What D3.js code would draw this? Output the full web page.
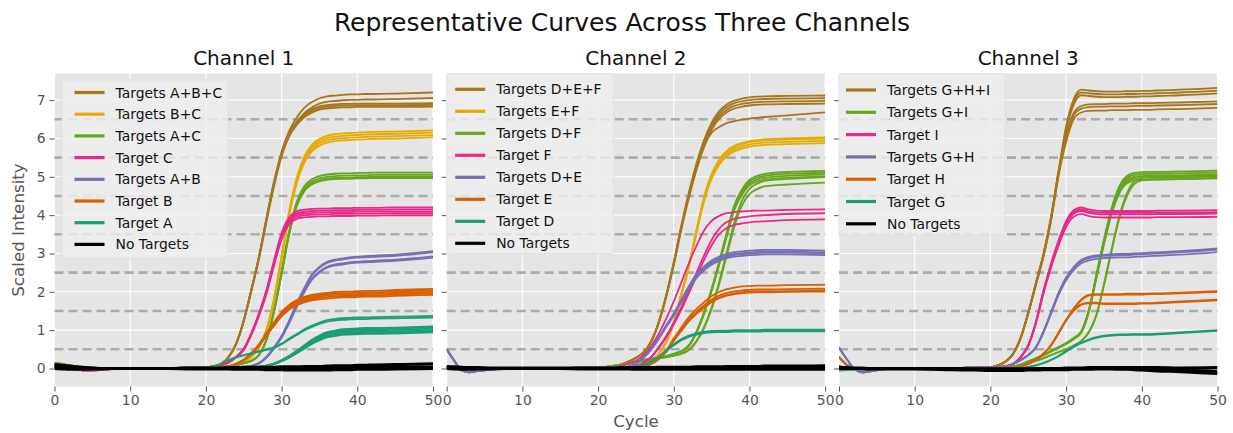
<!DOCTYPE html>
<html>
<head>
<meta charset="utf-8">
<script src="https://cdn.jsdelivr.net/npm/d3@7"></script>
<style>
  body { margin: 0; background: #fff; }
  svg text { font-family: "DejaVu Sans", sans-serif; }
</style>
</head>
<body>
<svg id="chart"></svg>
<script>
// ---------- data ----------
// cycle positions where the curves were sampled
const cycles = [0,1,2,3,4,6,8,10,15,18, 20,21,22,23,24,25,26,27,28,29, 30,31,32,33,34,35,36,37,38,39, 40,41,42,45,50];

const yTicks = [0,1,2,3,4,5,6,7];
const xTicks = [0,10,20,30,40,50];
const thresholds = [0.5,1.5,2.5,3.5,4.5,5.5,6.5];
const panelTitles = ["Channel 1","Channel 2","Channel 3"];

// Channel 1
const ch1ABCHi = [0.08,0.06,0.04,0.02,0.01,0,0,0,0.01,0.02, 0.03,0.06,0.12,0.3,0.65,1.25,2.05,2.9,3.9,4.85, 5.65,6.2,6.55,6.8,6.95,7.05,7.1,7.12,7.14,7.15, 7.15,7.16,7.16,7.17,7.2];
const ch1ABCLo = [0.08,0.06,0.04,0.02,0.01,0,0,0,0.01,0.02, 0.03,0.06,0.12,0.3,0.65,1.25,2.05,2.9,3.9,4.85, 5.6,6.1,6.4,6.6,6.72,6.8,6.83,6.85,6.86,6.86, 6.87,6.87,6.87,6.87,6.88];
const ch1BC = [0,0.01,0.02,0.02,0.01,0,0,0,0.01,0.02, 0.02,0.03,0.04,0.06,0.1,0.17,0.3,0.55,1.0,1.8, 2.9,4.05,4.9,5.45,5.75,5.9,5.98,6.02,6.04,6.05, 6.06,6.07,6.08,6.09,6.12];
const ch1AC = [0.15,0.12,0.08,0.05,0.02,0,0,0,0.01,0.02, 0.02,0.03,0.04,0.06,0.09,0.14,0.2,0.35,0.75,1.5, 2.5,3.55,4.3,4.7,4.88,4.96,5.0,5.02,5.03,5.03, 5.04,5.04,5.05,5.05,5.05];
const ch1C = [0.05,0.02,0,-0.03,-0.05,-0.04,-0.01,0,0.01,0.02, 0.03,0.05,0.09,0.16,0.3,0.5,0.9,1.4,2.0,2.75, 3.45,3.85,4.0,4.04,4.06,4.07,4.07,4.08,4.08,4.08, 4.09,4.09,4.09,4.1,4.1];
const ch1AB = [0.05,0.03,0.01,0,-0.01,-0.01,0,0,0.01,0.02, 0.02,0.02,0.03,0.03,0.04,0.05,0.07,0.14,0.3,0.55, 0.85,1.25,1.7,2.1,2.45,2.65,2.78,2.84,2.87,2.9, 2.92,2.93,2.94,2.97,3.06];
const ch1B = [0.05,0.03,0.01,0,0,0,0,0,0.01,0.02, 0.02,0.02,0.03,0.05,0.12,0.22,0.38,0.6,0.88,1.15, 1.4,1.58,1.7,1.78,1.83,1.86,1.88,1.9,1.91,1.91, 1.92,1.93,1.93,1.95,1.98];
const ch1AHi = [0.1,0.08,0.05,0.03,0.01,0,0,0,0.01,0.02, 0.02,0.05,0.12,0.22,0.3,0.35,0.4,0.45,0.5,0.55, 0.65,0.78,0.9,1.02,1.12,1.2,1.26,1.29,1.31,1.32, 1.33,1.33,1.34,1.35,1.37];
const ch1ALo = [0.1,0.08,0.05,0.03,0.01,0,0,0,0.01,0.01, 0.01,0.01,0.01,0.02,0.02,0.02,0.02,0.04,0.07,0.12, 0.2,0.3,0.42,0.55,0.68,0.78,0.86,0.9,0.93,0.94, 0.95,0.96,0.96,0.97,1.0];
const ch1None1 = [0.1,0.08,0.06,0.04,0.02,0,0,0,0,0, 0,0,0,0,0,0,0,0,0,0, 0,0,0,0,0,0,0.01,0.01,0.01,0.02, 0.02,0.02,0.02,0.03,0.03];
const ch1None2 = [0,-0.01,-0.02,-0.02,-0.02,-0.01,0,0,0,-0.01, -0.01,-0.01,-0.01,-0.01,-0.02,-0.02,-0.02,-0.02,-0.03,-0.03, -0.03,-0.04,-0.04,-0.04,-0.04,-0.04,-0.04,-0.03,-0.03,-0.03, -0.02,-0.02,-0.02,-0.01,0];
const ch1None3 = [0.05,0.04,0.03,0.02,0.01,0,0,0,0,0.01, 0.01,0.01,0.01,0.02,0.02,0.02,0.03,0.03,0.03,0.03, 0.04,0.04,0.04,0.05,0.05,0.05,0.06,0.07,0.07,0.07, 0.08,0.08,0.09,0.1,0.12];

// Channel 2
const ch2DEF = [0.05,0.03,0.01,0,-0.01,0,0,0,0.01,0.02, 0.03,0.04,0.05,0.1,0.18,0.28,0.42,0.7,1.2,1.9, 2.75,3.7,4.55,5.3,5.9,6.35,6.65,6.82,6.92,6.97, 7.0,7.02,7.03,7.04,7.05];
const ch2DEFOut = [0.05,0.03,0.01,0,-0.01,0,0,0,0.01,0.02, 0.03,0.04,0.05,0.1,0.18,0.28,0.42,0.7,1.2,1.9, 2.75,3.7,4.5,5.2,5.8,6.15,6.3,6.4,6.45,6.49, 6.52,6.54,6.56,6.6,6.68];
const ch2EF = [0.03,0.02,0.01,0,0,0,0,0,0.01,0.01, 0.02,0.02,0.03,0.03,0.04,0.05,0.1,0.2,0.38,0.7, 1.2,1.95,2.7,3.6,4.45,5.05,5.42,5.65,5.78,5.85, 5.9,5.93,5.95,5.97,6.0];
const ch2DF = [0.05,0.03,0.01,0,0,0,0,0,0.01,0.02, 0.02,0.04,0.07,0.1,0.14,0.18,0.22,0.25,0.28,0.32, 0.38,0.45,0.6,0.95,1.45,2.05,2.75,3.5,4.2,4.6, 4.85,4.95,5.0,5.05,5.08];
const ch2DFLate = [0.05,0.03,0.01,0,0,0,0,0,0.01,0.02, 0.02,0.04,0.06,0.09,0.12,0.16,0.2,0.23,0.26,0.29, 0.33,0.38,0.48,0.7,1.05,1.55,2.2,2.95,3.7,4.25, 4.55,4.68,4.75,4.8,4.85];
const ch2FEarly = [0.04,0.02,0.01,0,0,0,0,0,0.01,0.01, 0.02,0.03,0.04,0.07,0.12,0.2,0.35,0.58,0.9,1.3, 1.75,2.25,2.75,3.2,3.6,3.85,3.98,4.05,4.08,4.1, 4.11,4.12,4.12,4.14,4.15];
const ch2F = [0.04,0.02,0.01,0,0,0,0,0,0.01,0.01, 0.02,0.02,0.02,0.02,0.03,0.07,0.15,0.3,0.55,0.85, 1.2,1.6,2.05,2.5,2.95,3.35,3.65,3.82,3.9,3.94, 3.97,3.99,4.0,4.03,4.05];
const ch2DE = [0.5,0.2,-0.05,-0.1,-0.07,-0.02,0,0,0.01,0.02, 0.02,0.02,0.03,0.03,0.05,0.12,0.28,0.5,0.78,1.1, 1.4,1.75,2.1,2.4,2.6,2.75,2.85,2.92,2.96,2.98, 3.0,3.01,3.02,3.02,3.0];
const ch2E = [0.03,0.01,0,-0.01,-0.01,0,0,0,0.01,0.01, 0.01,0.01,0.01,0.01,0.01,0.02,0.05,0.12,0.25,0.45, 0.75,1.02,1.28,1.48,1.65,1.8,1.9,1.97,2.01,2.04, 2.05,2.06,2.06,2.07,2.08];
const ch2D = [0,-0.01,-0.02,-0.02,-0.01,0,0,0,0.01,0.01, 0.01,0.01,0.01,0.01,0.02,0.05,0.1,0.18,0.3,0.47, 0.62,0.75,0.84,0.9,0.94,0.96,0.97,0.97,0.98,0.98, 0.98,0.98,0.99,0.99,0.99];
const ch2None1 = [0.03,0.02,0.01,0,0,0,0,0,0,0, 0,0,0,0,0,0,0,0,0,0, 0,0,0,0,0,0,0,0,0,0, 0,0,0,0,0];
const ch2None2 = [0.05,0.04,0.03,0.02,0.02,0.01,0.01,0.01,0.01,0.01, 0.01,0.01,0.01,0.02,0.02,0.02,0.02,0.02,0.03,0.03, 0.03,0.03,0.03,0.04,0.04,0.04,0.04,0.05,0.05,0.05, 0.05,0.05,0.06,0.06,0.07];
const ch2None3 = [0,-0.01,-0.02,-0.02,-0.01,-0.01,0,0,0,-0.01, -0.01,-0.01,-0.01,-0.01,-0.01,-0.02,-0.02,-0.02,-0.02,-0.02, -0.02,-0.02,-0.02,-0.02,-0.02,-0.02,-0.02,-0.02,-0.02,-0.02, -0.02,-0.02,-0.02,-0.02,-0.02];

// Channel 3
const ch3GHIHi = [0.3,0.1,0,-0.05,-0.04,0,0,0,0.01,0.02, 0.03,0.08,0.18,0.38,0.8,1.45,2.2,2.95,3.9,5.1, 6.25,6.95,7.2,7.18,7.16,7.15,7.15,7.15,7.16,7.16, 7.17,7.17,7.18,7.2,7.25];
const ch3GHILo = [0.3,0.1,0,-0.05,-0.04,0,0,0,0.01,0.02, 0.03,0.08,0.18,0.38,0.8,1.45,2.2,2.95,3.9,5.1, 6.0,6.6,6.78,6.82,6.83,6.83,6.84,6.84,6.84,6.85, 6.85,6.85,6.86,6.87,6.9];
const ch3GI = [0.05,0.03,0.01,0,0,0,0,0,0.01,0.02, 0.02,0.03,0.04,0.05,0.1,0.18,0.26,0.35,0.45,0.55, 0.65,0.78,0.95,1.5,2.4,3.3,4.1,4.65,4.92,5.0, 5.02,5.03,5.03,5.04,5.06];
const ch3GILate = [0.05,0.03,0.01,0,0,0,0,0,0.01,0.02, 0.02,0.03,0.04,0.05,0.08,0.14,0.2,0.27,0.35,0.43, 0.5,0.6,0.72,0.95,1.4,2.2,3.1,3.95,4.55,4.88, 4.98,5.0,5.01,5.02,5.05];
const ch3I = [0.05,0.02,0,-0.02,-0.02,-0.01,0,0,0.01,0.02, 0.02,0.03,0.06,0.12,0.3,0.6,1.2,2.0,2.7,3.3, 3.8,4.08,4.15,4.1,4.07,4.06,4.06,4.06,4.06,4.06, 4.06,4.06,4.07,4.07,4.08];
const ch3GH = [0.55,0.25,0,-0.1,-0.08,-0.02,0,0,0.01,0.02, 0.02,0.03,0.05,0.12,0.22,0.35,0.55,0.95,1.45,1.95, 2.35,2.62,2.8,2.88,2.92,2.94,2.95,2.96,2.96,2.97, 2.98,2.99,3.0,3.03,3.1];
const ch3HHi = [0.03,0.02,0.01,0,0,0,0,0,0.01,0.01, 0.01,0.01,0.02,0.02,0.06,0.12,0.22,0.38,0.6,0.92, 1.25,1.55,1.78,1.9,1.92,1.92,1.92,1.92,1.93,1.93, 1.93,1.94,1.94,1.96,2.0];
const ch3HLo = [0.03,0.02,0.01,0,0,0,0,0,0.01,0.01, 0.01,0.01,0.02,0.02,0.06,0.12,0.22,0.38,0.6,0.92, 1.25,1.5,1.66,1.7,1.7,1.68,1.68,1.68,1.68,1.68, 1.69,1.69,1.7,1.73,1.78];
const ch3G = [-0.05,-0.04,-0.03,-0.02,-0.01,0,0,0,0,0, 0,0,0.01,0.01,0.02,0.04,0.08,0.14,0.22,0.32, 0.44,0.56,0.66,0.74,0.8,0.84,0.86,0.87,0.87,0.88, 0.88,0.88,0.89,0.92,0.98];
const ch3None1 = [0.02,0.01,0,0,0,0,0,0,-0.01,-0.02, -0.03,-0.03,-0.03,-0.03,-0.03,-0.02,-0.02,-0.02,-0.01,-0.01, -0.01,0,0,0,0.01,0.01,0.01,0.01,0,0, 0,-0.01,-0.02,-0.04,-0.08];
const ch3None2 = [0.03,0.02,0.01,0.01,0,0,0,0,0,-0.01, -0.01,-0.01,-0.01,-0.01,-0.01,-0.01,0,0,0,0, 0.01,0.01,0.01,0.02,0.02,0.02,0.02,0.02,0.02,0.02, 0.02,0.02,0.02,0.01,0.02];
const ch3None3 = [0,0,0,0,-0.01,-0.01,-0.01,-0.01,-0.03,-0.04, -0.05,-0.05,-0.05,-0.05,-0.05,-0.04,-0.04,-0.03,-0.03,-0.03, -0.03,-0.02,-0.02,-0.02,-0.01,-0.01,-0.01,-0.02,-0.02,-0.03, -0.04,-0.05,-0.06,-0.08,-0.13];

// replicate wells of each curve: relative plateau of every replicate
const ch1Series = [
  { label: "Targets A+B+C", tone: "brown",  curves: [{ v: ch1ABCHi, reps: [1, 0.98] }, { v: ch1ABCLo, reps: [1, 0.993, 1.006] }] },
  { label: "Targets B+C",   tone: "yellow", curves: [{ v: ch1BC, reps: [1.015, 1.005, 0.995, 0.985] }] },
  { label: "Targets A+C",   tone: "green",  curves: [{ v: ch1AC, reps: [1.012, 1, 0.99, 0.984] }] },
  { label: "Target C",      tone: "pink",   curves: [{ v: ch1C, reps: [1.025, 1.012, 1, 0.988, 0.975] }] },
  { label: "Targets A+B",   tone: "purple", curves: [{ v: ch1AB, reps: [1, 0.99, 0.955, 0.945] }] },
  { label: "Target B",      tone: "orange", curves: [{ v: ch1B, reps: [1.05, 1.03, 1.01, 0.99, 0.97] }] },
  { label: "Target A",      tone: "teal",   curves: [{ v: ch1AHi, reps: [1, 0.97] }, { v: ch1ALo, reps: [1.1, 1.07, 1.04, 1, 0.97, 0.94] }] },
  { label: "No Targets",    tone: "black",  curves: [{ v: ch1None1, reps: [1] }, { v: ch1None2, reps: [1] }, { v: ch1None3, reps: [1] }] }
];
const ch2Series = [
  { label: "Targets D+E+F", tone: "brown",  curves: [{ v: ch2DEF, reps: [1.01, 1, 0.99, 0.98] }, { v: ch2DEFOut, reps: [1] }] },
  { label: "Targets E+F",   tone: "yellow", curves: [{ v: ch2EF, reps: [1.005, 1, 0.99, 0.98] }] },
  { label: "Targets D+F",   tone: "green",  curves: [{ v: ch2DF, reps: [1.015, 1.005, 0.995, 0.985] }, { v: ch2DFLate, reps: [1, 1.03] }] },
  { label: "Target F",      tone: "pink",   curves: [{ v: ch2FEarly, reps: [1] }, { v: ch2F, reps: [1, 0.96] }] },
  { label: "Targets D+E",   tone: "purple", curves: [{ v: ch2DE, reps: [1.025, 1.01, 1, 0.985] }] },
  { label: "Target E",      tone: "orange", curves: [{ v: ch2E, reps: [1.05, 1, 0.975, 0.965] }] },
  { label: "Target D",      tone: "teal",   curves: [{ v: ch2D, reps: [1.02, 1, 0.98] }] },
  { label: "No Targets",    tone: "black",  curves: [{ v: ch2None1, reps: [1] }, { v: ch2None2, reps: [1] }, { v: ch2None3, reps: [1] }] }
];
const ch3Series = [
  { label: "Targets G+H+I", tone: "brown",  curves: [{ v: ch3GHIHi, reps: [1.01, 1, 0.99] }, { v: ch3GHILo, reps: [1.01, 1, 0.985] }] },
  { label: "Targets G+I",   tone: "green",  curves: [{ v: ch3GI, reps: [1.02, 1.01, 1, 0.99, 0.98] }, { v: ch3GILate, reps: [1, 0.985] }] },
  { label: "Target I",      tone: "pink",   curves: [{ v: ch3I, reps: [1.012, 1, 0.99, 0.97] }] },
  { label: "Targets G+H",   tone: "purple", curves: [{ v: ch3GH, reps: [1.01, 1, 0.98] }] },
  { label: "Target H",      tone: "orange", curves: [{ v: ch3HHi, reps: [1.01, 1] }, { v: ch3HLo, reps: [1.01, 1] }] },
  { label: "Target G",      tone: "teal",   curves: [{ v: ch3G, reps: [1.02, 1] }] },
  { label: "No Targets",    tone: "black",  curves: [{ v: ch3None1, reps: [1] }, { v: ch3None2, reps: [1] }, { v: ch3None3, reps: [1] }] }
];

// Dark2 palette
const tones = {
  brown: "#a6761d", yellow: "#e6ab02", green: "#66a61e", pink: "#e7298a",
  purple: "#7570b3", orange: "#d95f02", teal: "#1b9e77", black: "#000000"
};

class ChannelPanel {

  constructor(_config, _series) {
    this.config = {
      parentElement: _config.parentElement,
      left: _config.left,
      top: 73.5,
      width: 378.5,
      height: 313,
      title: _config.title,
      showYLabels: _config.showYLabels,
      legendBox: _config.legendBox
    };
    this.series = _series;
    this.initVis();
  }

  initVis() {
    let vis = this;
    const c = vis.config;

    vis.xScale = d3.scaleLinear().domain([0, 50]).range([0, c.width]);
    vis.yScale = d3.scaleLinear().domain([-0.47, 7.695]).range([c.height, 0]);

    vis.g = c.parentElement.append('g')
        .attr('transform', `translate(${c.left},${c.top})`);

    // ggplot-like background
    vis.g.append('rect')
        .attr('width', c.width)
        .attr('height', c.height)
        .attr('fill', '#e5e5e5');

    const clipId = 'clip-' + c.left.toFixed(0);
    vis.g.append('clipPath').attr('id', clipId)
      .append('rect').attr('width', c.width).attr('height', c.height);

    // --- GRID ---
    vis.g.append('g').selectAll('line').data(xTicks).join('line')
        .attr('x1', d => vis.xScale(d)).attr('x2', d => vis.xScale(d))
        .attr('y1', 0).attr('y2', c.height)
        .attr('stroke', '#ffffff').attr('stroke-width', 1.1);
    vis.g.append('g').selectAll('line').data(yTicks).join('line')
        .attr('x1', 0).attr('x2', c.width)
        .attr('y1', d => vis.yScale(d)).attr('y2', d => vis.yScale(d))
        .attr('stroke', '#ffffff').attr('stroke-width', 1.1);

    // --- THRESHOLD DASHES ---
    vis.g.append('g').selectAll('line').data(thresholds).join('line')
        .attr('x1', 0).attr('x2', c.width)
        .attr('y1', d => vis.yScale(d)).attr('y2', d => vis.yScale(d))
        .attr('stroke', '#ababab').attr('stroke-width', 2.6)
        .attr('stroke-dasharray', '9,5');

    // --- AXES ---
    const xAxis = d3.axisBottom(vis.xScale).tickValues(xTicks).tickSize(5).tickPadding(4);
    const yAxis = d3.axisLeft(vis.yScale).tickValues(yTicks).tickSize(5).tickPadding(4);
    if (!c.showYLabels) yAxis.tickFormat('');

    vis.g.append('g')
        .attr('transform', `translate(0,${c.height})`)
        .call(xAxis)
        .call(g => g.select('.domain').remove())
        .call(g => g.selectAll('line').attr('stroke', '#555').attr('stroke-width', 1))
        .call(g => g.selectAll('text').attr('fill', '#555').attr('font-size', '13.9px')
            .attr('font-family', '"DejaVu Sans", sans-serif'));
    vis.g.append('g')
        .call(yAxis)
        .call(g => g.select('.domain').remove())
        .call(g => g.selectAll('line').attr('stroke', '#555').attr('stroke-width', 1))
        .call(g => g.selectAll('text').attr('fill', '#555').attr('font-size', '13.9px')
            .attr('font-family', '"DejaVu Sans", sans-serif'));

    // --- TITLE ---
    vis.g.append('text')
        .attr('x', c.width / 2).attr('y', -9)
        .attr('text-anchor', 'middle')
        .attr('font-size', '20px').attr('fill', '#111')
        .text(c.title);

    vis.lines = vis.g.append('g').attr('clip-path', `url(#${clipId})`);
    vis.renderVis();
  }

  renderVis() {
    let vis = this;
    const c = vis.config;

    // flatten: one path per replicate well
    const wells = [];
    vis.series.forEach(s => {
      s.curves.forEach(cv => {
        cv.reps.forEach(k => wells.push({ tone: s.tone, v: cv.v, k: k }));
      });
    });

    vis.lines.selectAll('path').data(wells).join('path')
        .attr('fill', 'none')
        .attr('stroke', d => tones[d.tone])
        .attr('stroke-width', d => d.tone === 'black' ? 3.2 : 1.8)
        .attr('d', d => d3.line()
            .x((v, i) => vis.xScale(cycles[i]))
            .y(v => vis.yScale(v * d.k))
            .curve(d3.curveMonotoneX)(d.v));

    // --- LEGEND ---
    const lb = c.legendBox;
    const leg = vis.g.append('g').attr('transform', `translate(${lb.x},${lb.y})`);
    leg.append('rect')
        .attr('width', lb.w).attr('height', lb.h)
        .attr('rx', 3)
        .attr('fill', '#eeeeee').attr('fill-opacity', 0.82)
        .attr('stroke', '#e2e2e2').attr('stroke-width', 1);
    const rows = leg.selectAll('g.row').data(vis.series).join('g')
        .attr('class', 'row')
        .attr('transform', (d, i) => `translate(0,${lb.first + i * lb.step})`);
    rows.append('line')
        .attr('x1', lb.hx).attr('x2', lb.hx + 30)
        .attr('stroke', d => tones[d.tone])
        .attr('stroke-width', 3.2);
    rows.append('text')
        .attr('x', lb.hx + 41).attr('dy', '0.36em')
        .attr('font-size', '13.9px').attr('fill', '#111')
        .text(d => d.label);
  }
}

// ---------- figure ----------
const svg = d3.select('#chart').attr('width', 1233).attr('height', 433);
svg.append('rect').attr('width', 1233).attr('height', 433).attr('fill', '#ffffff');

svg.append('text')
    .attr('x', 622).attr('y', 31)
    .attr('text-anchor', 'middle')
    .attr('font-size', '25px').attr('fill', '#111')
    .text('Representative Curves Across Three Channels');

new ChannelPanel({ parentElement: svg, left: 54.5, title: panelTitles[0], showYLabels: true,
  legendBox: { x: 7.5, y: 6.5, w: 166, h: 178, first: 12.5, step: 21.7, hx: 12.5 } }, ch1Series);
new ChannelPanel({ parentElement: svg, left: 446.7, title: panelTitles[1], showYLabels: false,
  legendBox: { x: 0, y: 0, w: 167, h: 180, first: 15.8, step: 22, hx: 8.5 } }, ch2Series);
new ChannelPanel({ parentElement: svg, left: 839, title: panelTitles[2], showYLabels: false,
  legendBox: { x: 0, y: 0, w: 166, h: 162, first: 16.5, step: 22.3, hx: 7 } }, ch3Series);

// axis labels
svg.append('text')
    .attr('transform', 'translate(24,230) rotate(-90)')
    .attr('text-anchor', 'middle')
    .attr('font-size', '16.7px').attr('fill', '#555')
    .text('Scaled Intensity');
svg.append('text')
    .attr('x', 636).attr('y', 427)
    .attr('text-anchor', 'middle')
    .attr('font-size', '16.7px').attr('fill', '#555')
    .text('Cycle');
</script>
</body>
</html>
